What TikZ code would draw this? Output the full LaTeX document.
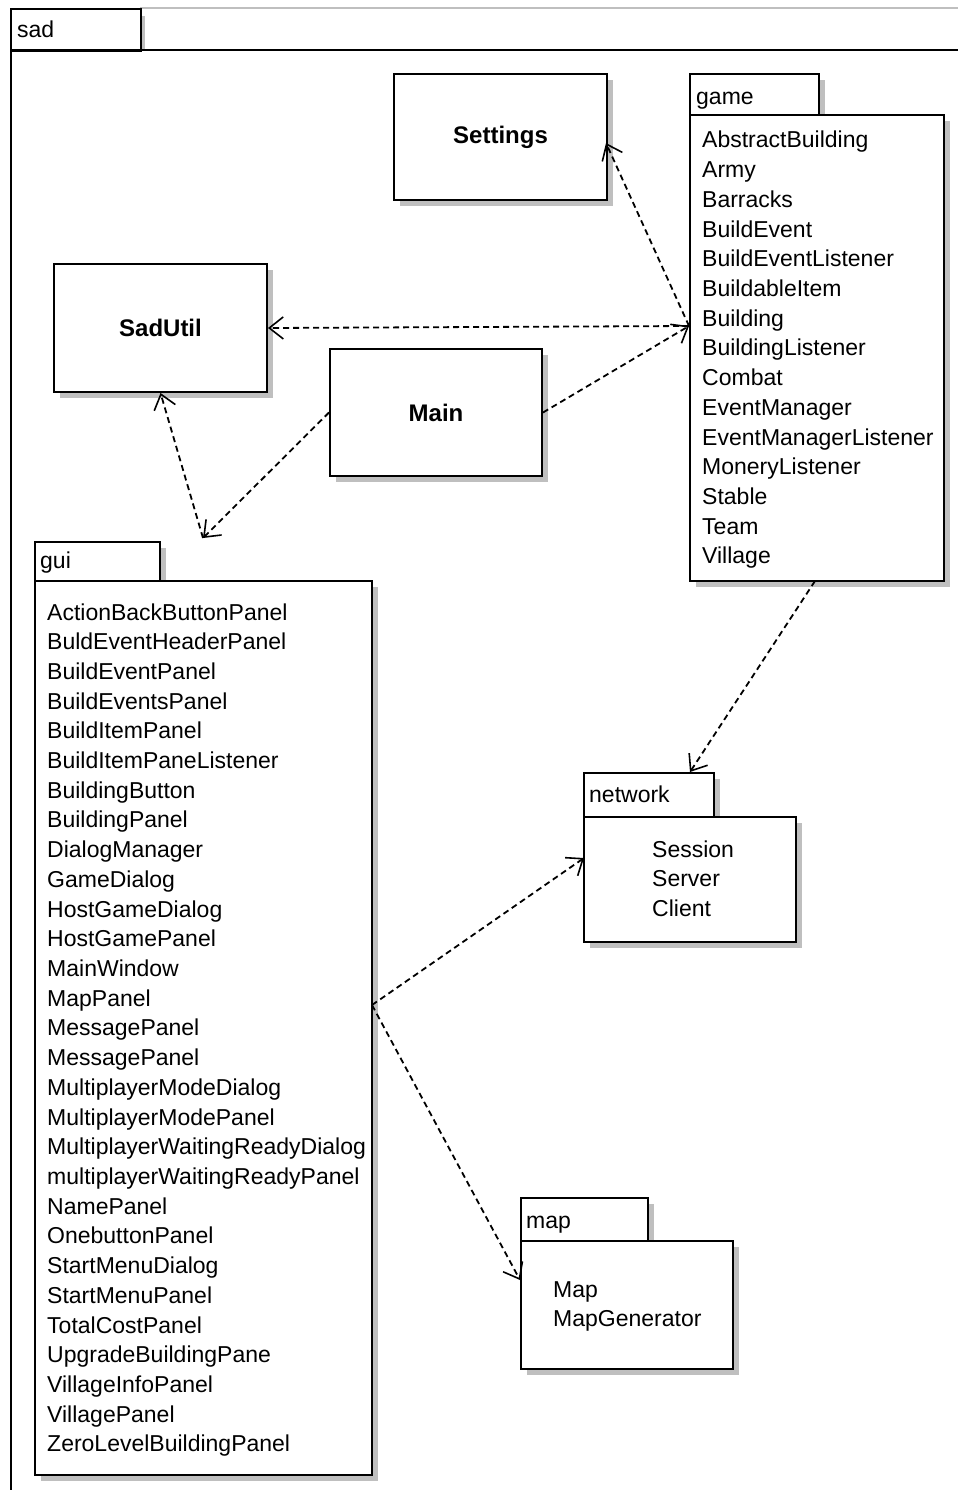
\documentclass[tikz,border=0pt]{standalone}
\usepackage{fontspec}
\setmainfont{Liberation Sans}
\usetikzlibrary{arrows.meta,shadows}
\begin{document}
\begin{tikzpicture}[x=1pt,y=-1pt,
  box/.style={draw, line width=2pt, fill=white, inner sep=0pt, anchor=north west,
    drop shadow={shadow xshift=6pt,shadow yshift=-6pt,fill=black!25,opacity=1}},
  cls/.style={box, font=\bfseries\fontsize{24}{28}\selectfont},
  item/.style={anchor=base west, inner sep=0pt, font=\fontsize{23}{28}\selectfont},
  dep/.style={line width=1.8pt, dash pattern=on 6pt off 4pt,
    -{Straight Barb[length=14pt,width=22pt,line width=1.6pt]}}
]
\useasboundingbox (0,0) rectangle (958,1490);
\fill[white] (0,0) rectangle (958,1490);

% outer package frame
\draw[black!25, line width=1.5pt] (140,8) -- (958,8);
\fill[black!25] (141,16) rectangle (145,50);
\node[draw, line width=2pt, fill=white, inner sep=0pt, anchor=north west,
  minimum width=130pt, minimum height=42pt] (sadtab) at (10,8) {};
\node[item] (sadlbl) at (17,38) {sad};
\draw[line width=2pt] (11,1490) -- (11,50) -- (958,50);

% classes
\node[cls, minimum width=213pt, minimum height=126pt] (settings) at (393,73) {\raisebox{-4pt}{}Settings};
\node[cls, minimum width=213pt, minimum height=128pt] (sadutil) at (53,263) {SadUtil};
\node[cls, minimum width=212pt, minimum height=127pt] (main) at (329,348) {Main};

% game package
\node[box, minimum width=129pt, minimum height=41pt] (gametab) at (689,73) {};
\node[box, minimum width=254pt, minimum height=466pt] (game) at (689,114) {};
\node[item] (gamelbl) at (696,105) {game};
\foreach \t [count=\i from 0] in {AbstractBuilding,Army,Barracks,BuildEvent,BuildEventListener,BuildableItem,Building,BuildingListener,Combat,EventManager,EventManagerListener,MoneryListener,Stable,Team,Village}
  \node[item] (g\i) at (702,148+29.7*\i) {\t};

% gui package
\node[box, minimum width=125pt, minimum height=39pt] (guitab) at (34,541) {};
\node[box, minimum width=337pt, minimum height=894pt] (gui) at (34,580) {};
\node[item] (guilbl) at (40,568) {gui};
\foreach \t [count=\i from 0] in {ActionBackButtonPanel,BuldEventHeaderPanel,BuildEventPanel,BuildEventsPanel,BuildItemPanel,BuildItemPaneListener,BuildingButton,BuildingPanel,DialogManager,GameDialog,HostGameDialog,HostGamePanel,MainWindow,MapPanel,MessagePanel,MessagePanel,MultiplayerModeDialog,MultiplayerModePanel,MultiplayerWaitingReadyDialog,multiplayerWaitingReadyPanel,NamePanel,OnebuttonPanel,StartMenuDialog,StartMenuPanel,TotalCostPanel,UpgradeBuildingPane,VillageInfoPanel,VillagePanel,ZeroLevelBuildingPanel}
  \node[item] (u\i) at (47,620+29.71*\i) {\t};

% network package
\node[box, minimum width=130pt, minimum height=44pt] (nettab) at (583,772) {};
\node[box, minimum width=212pt, minimum height=125pt] (network) at (583,816) {};
\node[item] (netlbl) at (589,802) {network};
\foreach \t [count=\i from 0] in {Session,Server,Client}
  \node[item] (n\i) at (652,857+29.7*\i) {\t};

% map package
\node[box, minimum width=127pt, minimum height=43pt] (maptab) at (520,1197) {};
\node[box, minimum width=212pt, minimum height=128pt] (map) at (520,1240) {};
\node[item] (maplbl) at (526,1228) {map};
\foreach \t [count=\i from 0] in {Map,MapGenerator}
  \node[item] (m\i) at (553,1297+29.7*\i) {\t};

% connection points
\coordinate (gA) at (689,326);
\coordinate (setP) at (606,143);
\coordinate (guiP) at (203,538);
\coordinate (guiR) at (372,1005);
\coordinate (netT) at (690,772);
\coordinate (netL) at (584,858);
\coordinate (mapL) at (520,1280);
\coordinate (gameB) at (815,581);

% dependencies
\draw[dep] (gA) -- (setP);
\draw[dep] (gA) -- (sadutil.east);
\draw[dep] (main.east) -- (gA);
\draw[dep] (guiP) -- (sadutil.south);
\draw[dep] (main.west) -- (guiP);
\draw[dep] (gameB) -- (netT);
\draw[dep] (guiR) -- (netL);
\draw[dep] (guiR) -- (mapL);
\end{tikzpicture}
\end{document}
